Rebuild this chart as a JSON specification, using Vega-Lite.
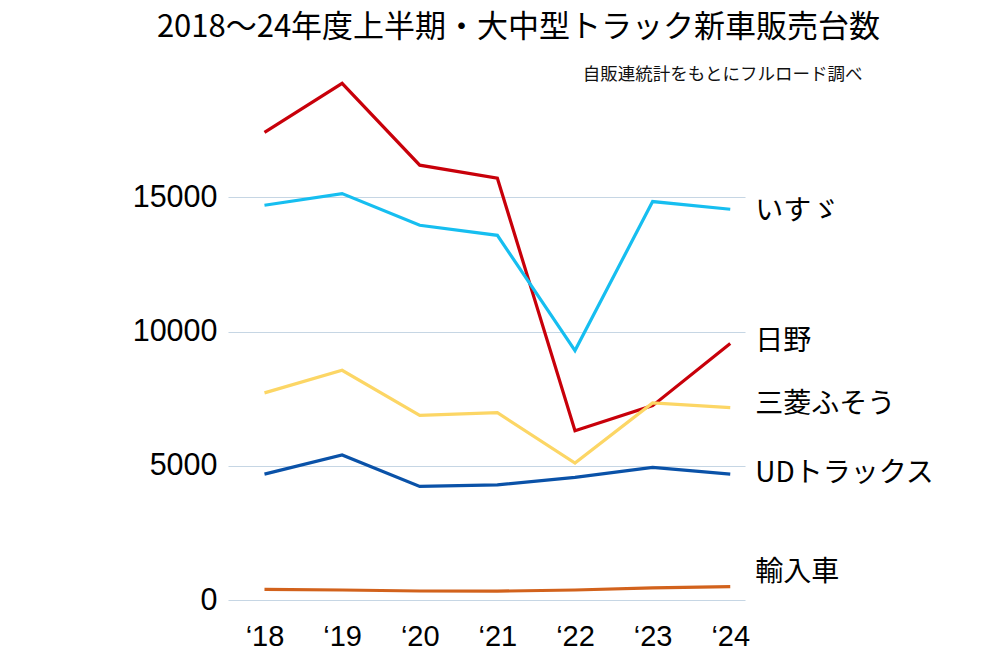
{
  "$schema": "https://vega.github.io/schema/vega-lite/v6.json",
  "autosize": {"type": "none"},
  "width": 517,
  "height": 537,
  "padding": {"left": 228, "top": 63, "right": 255, "bottom": 67},
  "background": "white",
  "title": {
    "text": "2018～24年度上半期・大中型トラック新車販売台数",
    "anchor": "middle",
    "frame": "group",
    "dx": 32,
    "offset": 19,
    "font": "Noto Sans CJK JP",
    "fontSize": 31,
    "fontWeight": "normal",
    "color": "#000000"
  },
  "config": {
    "view": {"stroke": null},
    "font": "Noto Sans CJK JP"
  },
  "datasets": {
    "sales": [
      {"year": 2018, "maker": "日野", "units": 17414},
      {"year": 2019, "maker": "日野", "units": 19243},
      {"year": 2020, "maker": "日野", "units": 16194},
      {"year": 2021, "maker": "日野", "units": 15709},
      {"year": 2022, "maker": "日野", "units": 6306},
      {"year": 2023, "maker": "日野", "units": 7239},
      {"year": 2024, "maker": "日野", "units": 9552},
      {"year": 2018, "maker": "いすゞ", "units": 14701},
      {"year": 2019, "maker": "いすゞ", "units": 15138},
      {"year": 2020, "maker": "いすゞ", "units": 13955},
      {"year": 2021, "maker": "いすゞ", "units": 13582},
      {"year": 2022, "maker": "いすゞ", "units": 9291},
      {"year": 2023, "maker": "いすゞ", "units": 14840},
      {"year": 2024, "maker": "いすゞ", "units": 14552},
      {"year": 2018, "maker": "三菱ふそう", "units": 7713},
      {"year": 2019, "maker": "三菱ふそう", "units": 8556},
      {"year": 2020, "maker": "三菱ふそう", "units": 6877},
      {"year": 2021, "maker": "三菱ふそう", "units": 6978},
      {"year": 2022, "maker": "三菱ふそう", "units": 5100},
      {"year": 2023, "maker": "三菱ふそう", "units": 7339},
      {"year": 2024, "maker": "三菱ふそう", "units": 7164},
      {"year": 2018, "maker": "UDトラックス", "units": 4690},
      {"year": 2019, "maker": "UDトラックス", "units": 5399},
      {"year": 2020, "maker": "UDトラックス", "units": 4229},
      {"year": 2021, "maker": "UDトラックス", "units": 4291},
      {"year": 2022, "maker": "UDトラックス", "units": 4565},
      {"year": 2023, "maker": "UDトラックス", "units": 4937},
      {"year": 2024, "maker": "UDトラックス", "units": 4690},
      {"year": 2018, "maker": "輸入車", "units": 399},
      {"year": 2019, "maker": "輸入車", "units": 373},
      {"year": 2020, "maker": "輸入車", "units": 336},
      {"year": 2021, "maker": "輸入車", "units": 330},
      {"year": 2022, "maker": "輸入車", "units": 373},
      {"year": 2023, "maker": "輸入車", "units": 448},
      {"year": 2024, "maker": "輸入車", "units": 498}
    ],
    "labels": [
      {"year": 2024, "maker": "いすゞ", "labelValue": 14450},
      {"year": 2024, "maker": "日野", "labelValue": 9609},
      {"year": 2024, "maker": "三菱ふそう", "labelValue": 7263},
      {"year": 2024, "maker": "UDトラックス", "labelValue": 4693},
      {"year": 2024, "maker": "輸入車", "labelValue": 1006}
    ]
  },
  "layer": [
    {
      "data": {"name": "sales"},
      "mark": {"type": "line", "strokeWidth": 3.2, "strokeJoin": "miter"},
      "encoding": {
        "x": {
          "field": "year",
          "type": "quantitative",
          "scale": {"domain": [2017.53, 2024.19], "nice": false, "zero": false},
          "axis": {
            "values": [2018, 2019, 2020, 2021, 2022, 2023, 2024],
            "labelExpr": "'‘' + substring(toString(datum.value), 2)",
            "grid": false,
            "domain": false,
            "ticks": false,
            "title": null,
            "labelFont": "Liberation Sans",
            "labelFontSize": 29,
            "labelColor": "#000000",
            "labelPadding": 22,
            "labelFlush": false
          }
        },
        "y": {
          "field": "units",
          "type": "quantitative",
          "scale": {"domain": [0, 20000], "nice": false},
          "axis": {
            "values": [0, 5000, 10000, 15000],
            "format": "d",
            "grid": true,
            "gridColor": "#c6d6e4",
            "gridWidth": 1.2,
            "domain": false,
            "ticks": false,
            "labelFont": "Liberation Sans",
            "labelFontSize": 30.5,
            "labelColor": "#000000",
            "labelPadding": 11,
            "title": "自販連統計をもとにフルロード調べ",
            "titleAngle": 0,
            "titleAlign": "right",
            "titleBaseline": "alphabetic",
            "titleX": 634,
            "titleY": 16,
            "titleFont": "Noto Sans CJK JP",
            "titleFontSize": 17.5,
            "titleFontWeight": "normal",
            "titleColor": "#111111"
          }
        },
        "color": {
          "field": "maker",
          "type": "nominal",
          "scale": {
            "domain": ["日野", "いすゞ", "三菱ふそう", "UDトラックス", "輸入車"],
            "range": ["#c8000a", "#16bef0", "#fcd665", "#0a52a8", "#d2621c"]
          },
          "legend": null
        }
      }
    },
    {
      "data": {"name": "labels"},
      "mark": {"type": "text", "align": "left", "baseline": "middle", "dx": 25, "fontSize": 28, "font": "Noto Sans CJK JP", "color": "#000000"},
      "encoding": {
        "x": {"field": "year", "type": "quantitative"},
        "y": {"field": "labelValue", "type": "quantitative"},
        "text": {"field": "maker", "type": "nominal"}
      }
    }
  ]
}
